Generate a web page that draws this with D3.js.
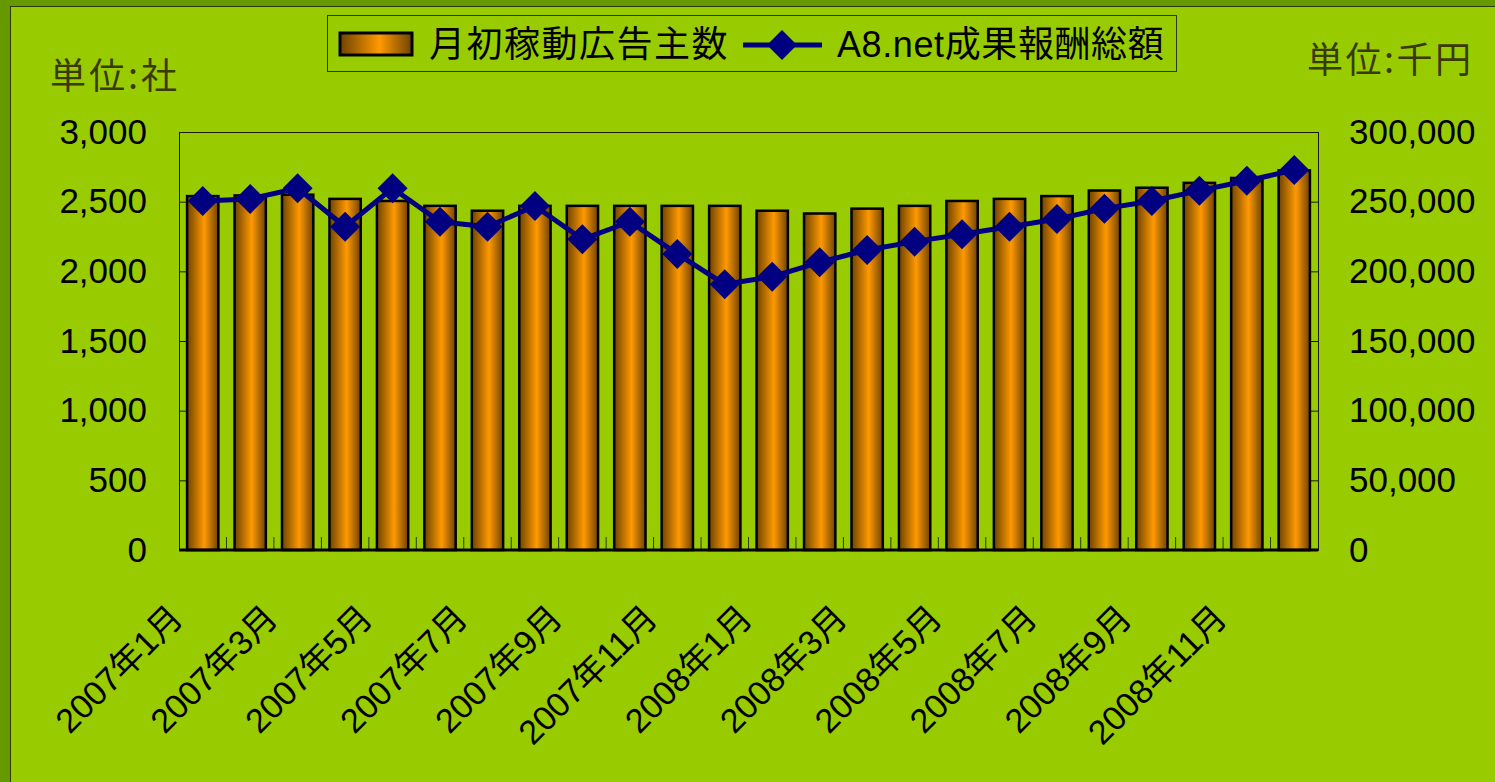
<!DOCTYPE html>
<html>
<head>
<meta charset="utf-8">
<script src="https://cdn.jsdelivr.net/npm/d3@7"></script>
<style>
  body { margin: 0; background: #99cc00; }
  text { font-family: "Liberation Sans", Arial, "Noto Sans CJK JP", sans-serif; }
  .cjk { font-family: "Noto Sans CJK JP", sans-serif; }
</style>
</head>
<body>
<script>
// months Jan 2007 .. Dec 2008
const months = ['2007年1月','2007年2月','2007年3月','2007年4月','2007年5月','2007年6月',
                '2007年7月','2007年8月','2007年9月','2007年10月','2007年11月','2007年12月',
                '2008年1月','2008年2月','2008年3月','2008年4月','2008年5月','2008年6月',
                '2008年7月','2008年8月','2008年9月','2008年10月','2008年11月','2008年12月'];
// 月初稼動広告主数 (社)
const advertisers = [2540, 2545, 2550, 2520, 2505, 2470, 2435, 2470, 2470, 2470, 2470, 2470,
                     2435, 2415, 2450, 2470, 2505, 2520, 2540, 2580, 2600, 2635, 2670, 2725];
// A8.net成果報酬総額 (千円)
const rewards = [250500, 252000, 259600, 232000, 259600, 235600, 232000, 246900, 223000, 235600, 212500, 190700,
                 196200, 206500, 215300, 221300, 226600, 232000, 237600, 245000, 250500, 257900, 265000, 272700];
const leftTicks = [0, 500, 1000, 1500, 2000, 2500, 3000];
const rightTicks = [0, 50000, 100000, 150000, 200000, 250000, 300000];
const legendNames = ['月初稼動広告主数', 'A8.net成果報酬総額'];

const width = 1495, height = 782;
let margin = {top: 132, right: 177, bottom: 232, left: 179};

let svg = d3.select('body').append('svg')
            .attr('width', width)
            .attr('height', height);

let defs = svg.append('defs');
let grad = defs.append('linearGradient').attr('id', 'barGrad')
               .attr('x1', '0%').attr('x2', '100%').attr('y1', '0%').attr('y2', '0%');
grad.append('stop').attr('offset', '0%').attr('stop-color', '#6e4300');
grad.append('stop').attr('offset', '55%').attr('stop-color', '#ff9900');
grad.append('stop').attr('offset', '100%').attr('stop-color', '#6e4300');

// outer frame
svg.append('rect').attr('x', 0).attr('y', 0).attr('width', width).attr('height', height).attr('fill', '#669900');
svg.append('rect').attr('x', 10.5).attr('y', 6.5).attr('width', width).attr('height', height)
   .attr('fill', '#99cc00').attr('stroke', '#2b3a00').attr('stroke-width', 1);

let x0 = margin.left, x1 = width - margin.right;
let yTop = margin.top, yBot = height - margin.bottom;

let x = d3.scaleBand().domain(months).range([x0, x1]).paddingInner(0.34).paddingOuter(0.17);
let xc = d3.scalePoint().domain(months).range([x0, x1]).padding(0.5);
let yL = d3.scaleLinear().domain([0, 3000]).range([yBot, yTop]);
let yR = d3.scaleLinear().domain([0, 300000]).range([yBot, yTop]);

// plot frame
svg.append('rect').attr('x', x0 + 0.5).attr('y', yTop + 0.5)
   .attr('width', x1 - x0).attr('height', yBot - yTop)
   .attr('fill', 'none').attr('stroke', '#1a1a00').attr('stroke-width', 1);

// left axis
let axL = svg.append('g').attr('transform', `translate(${x0},0)`)
             .call(d3.axisLeft(yL).tickValues(leftTicks).tickSizeInner(-13).tickSizeOuter(0)
                     .tickPadding(32).tickFormat(d3.format(',')));
// right axis
let axR = svg.append('g').attr('transform', `translate(${x1},0)`)
             .call(d3.axisRight(yR).tickValues(rightTicks).tickSizeInner(-13).tickSizeOuter(0)
                     .tickPadding(31).tickFormat(d3.format(',')));
[axL, axR].forEach(ax => {
  ax.select('.domain').attr('stroke', '#1a1a00');
  ax.selectAll('line').attr('stroke', '#1a1a00');
  ax.selectAll('text').attr('font-size', 35).attr('fill', '#000');
});

// category tick marks (between bars)
let step = (x1 - x0) / months.length;
svg.append('g').selectAll('line')
   .data(months.slice(1))
   .enter().append('line')
   .attr('x1', (d) => xc(d) - step / 2).attr('x2', (d) => xc(d) - step / 2)
   .attr('y1', yBot).attr('y2', yBot - 13)
   .attr('stroke', '#2b3a00').attr('stroke-width', 1);

// bars
svg.append('g').selectAll('rect')
   .data(advertisers)
   .enter().append('rect')
   .attr('x', (d, i) => x(months[i]))
   .attr('y', (d) => yL(d))
   .attr('width', x.bandwidth())
   .attr('height', (d) => yBot - yL(d))
   .attr('fill', 'url(#barGrad)')
   .attr('stroke', '#000').attr('stroke-width', 2.5);

// bottom axis line
svg.append('line').attr('x1', x0).attr('x2', x1).attr('y1', yBot).attr('y2', yBot)
   .attr('stroke', '#000').attr('stroke-width', 3);

// line series
let line = d3.line().x((d, i) => xc(months[i])).y((d) => yR(d));
svg.append('path').datum(rewards)
   .attr('d', line).attr('fill', 'none')
   .attr('stroke', '#000080').attr('stroke-width', 5).attr('stroke-linejoin', 'round');

let diamond = 'M0,-15L15,0L0,15L-15,0Z';
svg.append('g').selectAll('path')
   .data(rewards)
   .enter().append('path')
   .attr('d', diamond)
   .attr('transform', (d, i) => `translate(${xc(months[i])},${yR(d)})`)
   .attr('fill', '#000080');

// x labels (every other month)
svg.append('g').selectAll('text')
   .data(months.filter((d, i) => i % 2 === 0))
   .enter().append('text')
   .attr('transform', (d) => `translate(${xc(d) - 18},${yBot + 70}) rotate(-45)`)
   .attr('text-anchor', 'end')
   .attr('font-size', 34)
   .text((d) => d);

// unit labels
svg.append('text').attr('class', 'cjk').attr('x', 50).attr('y', 89).attr('font-size', 36)
   .attr('letter-spacing', 3).attr('fill', '#3a3a00').text('単位:社');
svg.append('text').attr('class', 'cjk').attr('x', 1307).attr('y', 73)
   .attr('font-size', 36).attr('letter-spacing', 2.5).attr('fill', '#3a3a00').text('単位:千円');

// legend
let lg = svg.append('g');
lg.append('rect').attr('x', 327.5).attr('y', 15.5).attr('width', 849).attr('height', 56)
  .attr('fill', '#99cc00').attr('stroke', '#2b3a00').attr('stroke-width', 1);
lg.append('rect').attr('x', 340).attr('y', 33).attr('width', 72).attr('height', 22)
  .attr('fill', 'url(#barGrad)').attr('stroke', '#000').attr('stroke-width', 3);
lg.append('text').attr('x', 429).attr('y', 57).attr('font-size', 36).attr('letter-spacing', 1.5)
  .text(legendNames[0]);
lg.append('line').attr('x1', 743).attr('x2', 822).attr('y1', 45).attr('y2', 45)
  .attr('stroke', '#000080').attr('stroke-width', 5);
lg.append('path').attr('d', diamond).attr('transform', 'translate(782,45)').attr('fill', '#000080');
lg.append('text').attr('x', 837).attr('y', 57).attr('font-size', 36).attr('letter-spacing', 0.6)
  .text(legendNames[1]);
</script>
</body>
</html>
